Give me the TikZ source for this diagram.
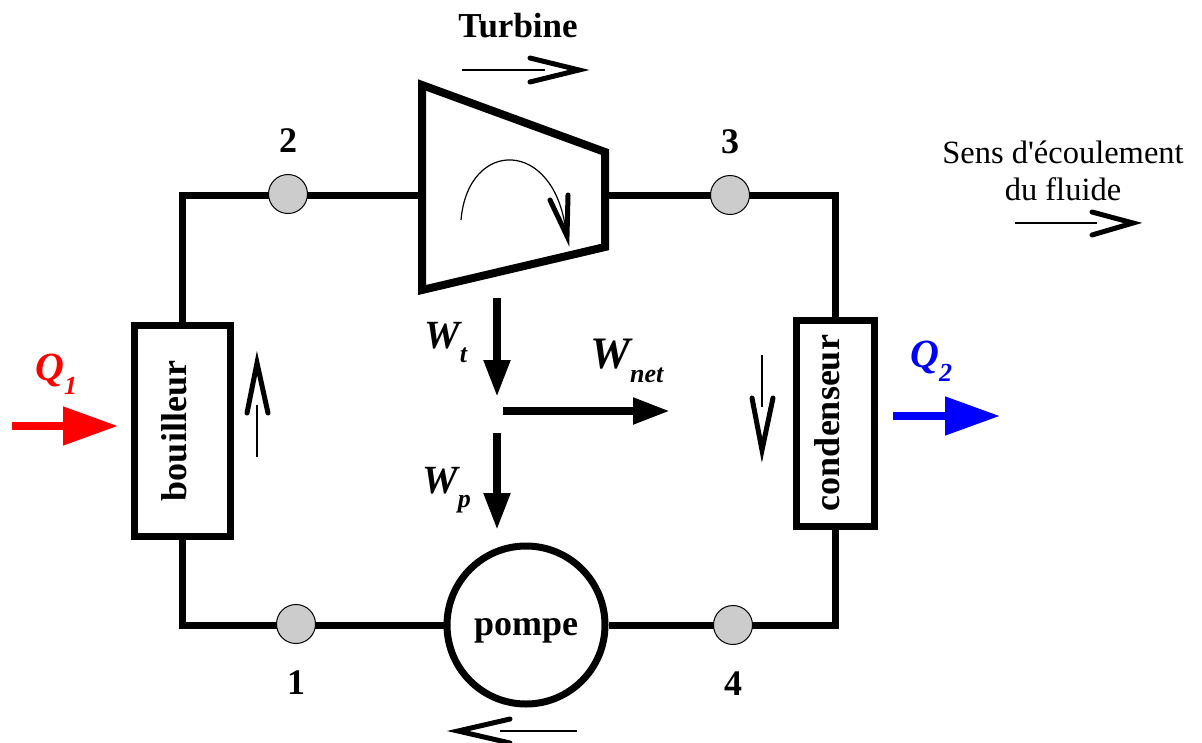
\documentclass[tikz,border=0pt]{standalone}
\usepackage{fontspec}
\setmainfont{Liberation Serif}
\usetikzlibrary{arrows.meta}
\pgfdeclarelayer{bg}
\pgfsetlayers{bg,main}
\newcommand{\wsub}[1]{\raisebox{-14pt}{\fontsize{26}{28}\selectfont #1}}
\tikzset{
    pipe/.style={line width=7pt},
    unit/.style={draw, fill=white, line width=7pt, inner sep=0pt, font=\fontsize{36}{40}\selectfont\bfseries},
    dot/.style={circle, draw, line width=1pt, fill=black!20, minimum size=39pt, inner sep=0pt},
    work/.style={line width=8pt, -{Triangle[length=37pt, width=25pt]}},
    heat/.style={line width=8pt, -{Triangle[length=55pt, width=37pt]}},
    shaft/.style={line width=1.2pt},
    chev/.style={line width=5pt, line cap=round},
    wlbl/.style={inner sep=0pt, font=\fontsize{40}{44}\selectfont\bfseries\itshape},
    txt/.style={inner sep=0pt, font=\fontsize{32.5}{37}\selectfont}
}
\tikzset{every label/.style={inner sep=0pt, font=\fontsize{36}{40}\selectfont\bfseries}}

\begin{document}
\begin{tikzpicture}[x=1pt, y=-1pt]
        \useasboundingbox (0,0) rectangle (1202,742);
        % turbine
        \draw[line width=8pt, fill=white] (422,85) -- (605,152) -- (605,247) -- (422,290) -- cycle;
        \coordinate (tin) at (422,195);
        \coordinate (tout) at (605,195);
        \draw[shaft] (461,220) .. controls (468,138) and (555,138) .. (566,232);
        \draw[chev] (550,200) -- (567,236) -- (568,195);
        \node (tlbl) [anchor=base, font=\fontsize{35}{40}\selectfont\bfseries, inner sep=0pt] at (518,37) {Turbine};
        % components
        \node (boil) [unit, rotate=90, minimum width=211pt, minimum height=96pt, text height=25pt, text depth=16pt] at (182,431) {bouilleur};
        \node (cond) [unit, rotate=90, minimum width=206pt, minimum height=78pt, text height=25pt, text depth=16pt] at (835,423) {condenseur};
        \node (pump) [unit, circle, minimum size=158pt, text height=26pt, text depth=6pt] at (526,625) {pompe};
        % states
        \node (p1) [dot, label={[label distance=27pt]below:1}] at (296,624) {};
        \node (p2) [dot, label={[label distance=21pt]above:2}] at (288,194) {};
        \node (p3) [dot, label={[label distance=21pt]above:3}] at (730,195) {};
        \node (p4) [dot, label={[label distance=27pt]below:4}] at (733,625) {};
        \begin{pgfonlayer}{bg}
                \draw[pipe] (boil.east) |- (tin);
                \draw[pipe] (tout) -| (cond.east);
                \draw[pipe] (boil.west) |- (pump.west);
                \draw[pipe] (pump.east) -| (cond.west);
        \end{pgfonlayer}
        % work
        \coordinate (wt0) at (497,298);
        \coordinate (wt1) at (497,397);
        \coordinate (wn0) at (503,411);
        \coordinate (wn1) at (670,411);
        \coordinate (wp0) at (497,433);
        \coordinate (wp1) at (497,530);
        \draw[work] (wt0) -- (wt1);
        \draw[work] (wn0) -- (wn1);
        \draw[work] (wp0) -- (wp1);
        \node (lwt) [wlbl, anchor=base west] at (424,348) {W\wsub{t}};
        \node (lwn) [wlbl, anchor=base west, font=\fontsize{45}{48}\selectfont\bfseries\itshape] at (590,368) {W\wsub{net}};
        \node (lwp) [wlbl, anchor=base west] at (422,493) {W\wsub{p}};
        % heat
        \coordinate (q10) at (12,426);
        \coordinate (q11) at (118,426);
        \coordinate (q20) at (893,416);
        \coordinate (q21) at (1000,416);
        \draw[heat, red] (q10) -- (q11);
        \draw[heat, blue] (q20) -- (q21);
        \node (lq1) [wlbl, red, anchor=base west] at (35,380) {Q\wsub{1}};
        \node (lq2) [wlbl, blue, anchor=base west] at (910,367) {Q\wsub{2}};
        % flow direction
        \draw[shaft] (462,70) -- (545,70);
        \draw[chev] (530,58) -- (579,70) -- (530,82);
        \draw[shaft] (257,457) -- (257,405);
        \draw[chev] (247,413) -- (257,363) -- (268,413);
        \draw[shaft] (762,355) -- (762,407);
        \draw[chev] (752,398) -- (762,450) -- (773,398);
        \draw[shaft] (577,731) -- (500,731);
        \draw[chev] (510,719) -- (458,731) -- (510,743);
        % legend
        \node (leg1) [txt, anchor=base] at (1063,163) {Sens d\textquotesingle écoulement};
        \node (leg2) [txt, anchor=base] at (1063,200) {du fluide};
        \draw[shaft] (1015,223) -- (1097,223);
        \draw[chev] (1092,212) -- (1133,223) -- (1092,235);
\end{tikzpicture}
\end{document}
